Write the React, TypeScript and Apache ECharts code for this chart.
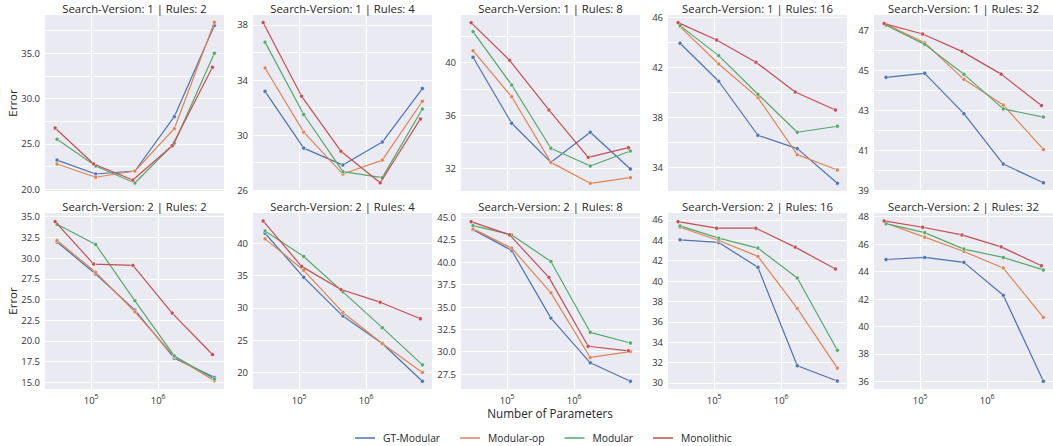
import React, { useEffect, useRef } from "react";
import * as echarts from "echarts";

const seriesNames = ["GT-Modular", "Modular-op", "Modular", "Monolithic"];
const seriesColors = ["#4c72b0", "#dd8452", "#55a868", "#c44e52"];

const panelTitles = [
  "Search-Version: 1 | Rules: 2",
  "Search-Version: 1 | Rules: 4",
  "Search-Version: 1 | Rules: 8",
  "Search-Version: 1 | Rules: 16",
  "Search-Version: 1 | Rules: 32",
  "Search-Version: 2 | Rules: 2",
  "Search-Version: 2 | Rules: 4",
  "Search-Version: 2 | Rules: 8",
  "Search-Version: 2 | Rules: 16",
  "Search-Version: 2 | Rules: 32",
];

// Number of parameters per model size, per method
const paramsGTModular = [31000, 117000, 450000, 1740000, 6900000];
const paramsModularOp = [31000, 117000, 450000, 1740000, 6900000];
const paramsModular = [31000, 117000, 450000, 1740000, 6900000];
const paramsMonolithic = [29000, 109000, 420000, 1620000, 6450000];

// Error values: one row per panel (same order as panelTitles)
const errGTModular = [
  [23.2, 21.66, 21.99, 28.0, 38.07],
  [33.18, 29.06, 27.83, 29.5, 33.38],
  [40.41, 35.41, 32.45, 34.73, 31.95],
  [43.92, 40.88, 36.56, 35.49, 32.72],
  [44.66, 44.86, 42.84, 40.32, 39.38],
  [31.93, 28.08, 23.72, 17.92, 15.6],
  [41.53, 34.71, 28.71, 24.46, 18.62],
  [43.66, 41.33, 33.76, 28.76, 26.69],
  [44.05, 43.79, 41.35, 31.69, 30.2],
  [44.88, 45.03, 44.67, 42.28, 36.0],
];
const errModularOp = [
  [22.77, 21.3, 21.99, 26.67, 38.43],
  [34.87, 30.22, 27.18, 28.19, 32.46],
  [40.91, 37.42, 32.45, 30.86, 31.29],
  [45.25, 42.26, 39.57, 35.01, 33.78],
  [47.32, 46.39, 44.56, 43.27, 41.05],
  [32.12, 28.28, 23.52, 18.12, 15.19],
  [40.66, 35.79, 29.28, 24.46, 20.0],
  [43.74, 41.59, 36.59, 29.36, 30.02],
  [45.28, 43.98, 42.42, 37.32, 31.46],
  [47.52, 46.51, 45.46, 44.26, 40.66],
];
const errModular = [
  [25.5, 22.54, 20.66, 25.05, 35.0],
  [36.75, 31.5, 27.35, 26.92, 31.9],
  [42.35, 38.31, 33.52, 32.17, 33.31],
  [45.33, 42.93, 39.84, 36.8, 37.28],
  [47.27, 46.31, 44.81, 43.08, 42.67],
  [34.09, 31.64, 24.84, 18.19, 15.4],
  [41.89, 37.94, 32.46, 26.92, 21.17],
  [44.11, 43.07, 40.1, 32.17, 30.98],
  [45.41, 44.21, 43.24, 40.31, 33.22],
  [47.49, 46.84, 45.64, 45.03, 44.12],
];
const errMonolithic = [
  [26.75, 22.77, 21.0, 24.79, 33.46],
  [38.17, 32.82, 28.84, 26.55, 31.18],
  [43.03, 40.18, 36.42, 32.83, 33.56],
  [45.57, 44.18, 42.4, 40.02, 38.58],
  [47.35, 46.83, 45.96, 44.82, 43.25],
  [34.4, 29.28, 29.12, 23.36, 18.36],
  [43.43, 36.4, 32.82, 30.86, 28.3],
  [44.55, 43.07, 38.32, 30.61, 30.1],
  [45.83, 45.19, 45.19, 43.33, 41.19],
  [47.69, 47.23, 46.67, 45.8, 44.43],
];

// y-axis ranges, grid values and labelled values per panel
const yMins = [19.78, 25.95, 30.28, 32.1, 38.97, 14.2, 17.43, 25.83, 29.41, 35.44];
const yMaxs = [39.24, 38.72, 43.61, 46.18, 47.78, 35.44, 44.66, 45.52, 46.68, 48.27];
const yGridValues = [
  [20, 22.5, 25, 27.5, 30, 32.5, 35, 37.5],
  [26, 28, 30, 32, 34, 36, 38],
  [32, 34, 36, 38, 40, 42],
  [34, 36, 38, 40, 42, 44, 46],
  [39, 40, 41, 42, 43, 44, 45, 46, 47],
  [15, 17.5, 20, 22.5, 25, 27.5, 30, 32.5, 35],
  [20, 25, 30, 35, 40],
  [27.5, 30, 32.5, 35, 37.5, 40, 42.5, 45],
  [30, 32, 34, 36, 38, 40, 42, 44, 46],
  [36, 38, 40, 42, 44, 46, 48],
];
const yLabelValues = [
  [20, 25, 30, 35],
  [26, 30, 34, 38],
  [32, 36, 40],
  [34, 38, 42, 46],
  [39, 41, 43, 45, 47],
  [15, 17.5, 20, 22.5, 25, 27.5, 30, 32.5, 35],
  [20, 25, 30, 35, 40],
  [27.5, 30, 32.5, 35, 37.5, 40, 42.5, 45],
  [30, 32, 34, 36, 38, 40, 42, 44, 46],
  [36, 38, 40, 42, 44, 46, 48],
];
const yDecimals = [1, 0, 0, 0, 0, 1, 0, 1, 0, 0];

const xMin = 20500;
const xMax = 9600000;
const xTickValues = [100000, 1000000];

const FONT = "'Open Sans', 'Noto Sans', 'DejaVu Sans', sans-serif";

export default function App() {
  const ref = useRef<HTMLDivElement>(null);

  useEffect(() => {
    document.body.style.margin = "0";
    if (!ref.current) return;
    const chart = echarts.init(ref.current, null, { renderer: "svg" });

    const colLefts = [45, 253, 461, 668, 874];
    const panelWidth = 179;
    const rowTops = [15, 213];
    const panelHeight = 176;

    const grids: any[] = [];
    const xAxes: any[] = [];
    const yAxes: any[] = [];
    const series: any[] = [];
    const graphics: any[] = [];

    const params = [paramsGTModular, paramsModularOp, paramsModular, paramsMonolithic];
    const errs = [errGTModular, errModularOp, errModular, errMonolithic];

    for (let i = 0; i < 10; i++) {
      const row = Math.floor(i / 5);
      const col = i % 5;
      const left = colLefts[col];
      const top = rowTops[row];
      grids.push({
        left,
        top,
        width: panelWidth,
        height: panelHeight,
        show: true,
        backgroundColor: "#eaeaf2",
        borderWidth: 0,
        containLabel: false,
      });
      xAxes.push({
        type: "log",
        logBase: 10,
        gridIndex: i,
        min: xMin,
        max: xMax,
        axisLine: { show: false },
        axisTick: { show: false, customValues: xTickValues },
        splitLine: { show: true, lineStyle: { color: "#ffffff", width: 1.2 } },
        axisLabel: {
          show: row === 1,
          customValues: xTickValues,
          margin: 4,
          formatter: (v: number) => {
            const e = Math.round(Math.log10(v));
            return `{a|10}{b|${e}}`;
          },
          rich: {
            a: { fontSize: 9.5, color: "#333", fontFamily: FONT, lineHeight: 12, verticalAlign: "bottom" },
            b: { fontSize: 7, color: "#333", fontFamily: FONT, lineHeight: 8, verticalAlign: "top" },
          },
        },
      });
      const dec = yDecimals[i];
      yAxes.push({
        type: "value",
        gridIndex: i,
        min: yMins[i],
        max: yMaxs[i],
        axisLine: { show: false },
        axisTick: { show: false, customValues: yGridValues[i] },
        splitLine: { show: true, lineStyle: { color: "#ffffff", width: 1.2 } },
        axisLabel: {
          customValues: yLabelValues[i],
          margin: 5,
          fontSize: 9.5,
          color: "#333",
          fontFamily: FONT,
          formatter: (v: number) => v.toFixed(dec),
        },
      });
      for (let s = 0; s < 4; s++) {
        series.push({
          type: "line",
          name: seriesNames[s],
          xAxisIndex: i,
          yAxisIndex: i,
          data: params[s].map((x, j) => [x, errs[s][i][j]]),
          symbol: "circle",
          symbolSize: 4,
          showSymbol: true,
          lineStyle: { color: seriesColors[s], width: 1.2 },
          itemStyle: { color: seriesColors[s], borderColor: "#ffffff", borderWidth: 0.5 },
          emphasis: { disabled: true },
          z: 2 + s,
        });
      }
      graphics.push({
        type: "text",
        x: left + panelWidth / 2,
        y: top - 7,
        style: {
          text: panelTitles[i],
          fontSize: 11.3,
          fontFamily: FONT,
          fill: "#262626",
          textAlign: "center",
          textVerticalAlign: "middle",
        },
      });
    }

    graphics.push({
      type: "text",
      x: 12,
      y: 103,
      rotation: Math.PI / 2,
      style: { text: "Error", fontSize: 11.5, fontFamily: FONT, fill: "#262626", textAlign: "center", textVerticalAlign: "middle" },
    });
    graphics.push({
      type: "text",
      x: 12,
      y: 301,
      rotation: Math.PI / 2,
      style: { text: "Error", fontSize: 11.5, fontFamily: FONT, fill: "#262626", textAlign: "center", textVerticalAlign: "middle" },
    });
    graphics.push({
      type: "text",
      x: 550,
      y: 413,
      style: {
        text: "Number of Parameters",
        fontSize: 11.7,
        fontFamily: FONT,
        fill: "#262626",
        textAlign: "center",
        textVerticalAlign: "middle",
      },
    });

    chart.setOption({
      animation: false,
      backgroundColor: "#ffffff",
      grid: grids,
      xAxis: xAxes,
      yAxis: yAxes,
      series,
      graphic: graphics,
      legend: {
        data: seriesNames.map((n) => ({ name: n, icon: "rect" })),
        left: 350,
        top: 428,
        itemWidth: 20,
        itemHeight: 1.5,
        itemGap: 20,
        selectedMode: false,
        itemStyle: { borderWidth: 0 },
        textStyle: { fontSize: 10.3, color: "#262626", fontFamily: FONT, padding: [0, 0, 0, 3] },
      },
    });

    return () => chart.dispose();
  }, []);

  return <div ref={ref} style={{ width: 1053, height: 446 }} />;
}
